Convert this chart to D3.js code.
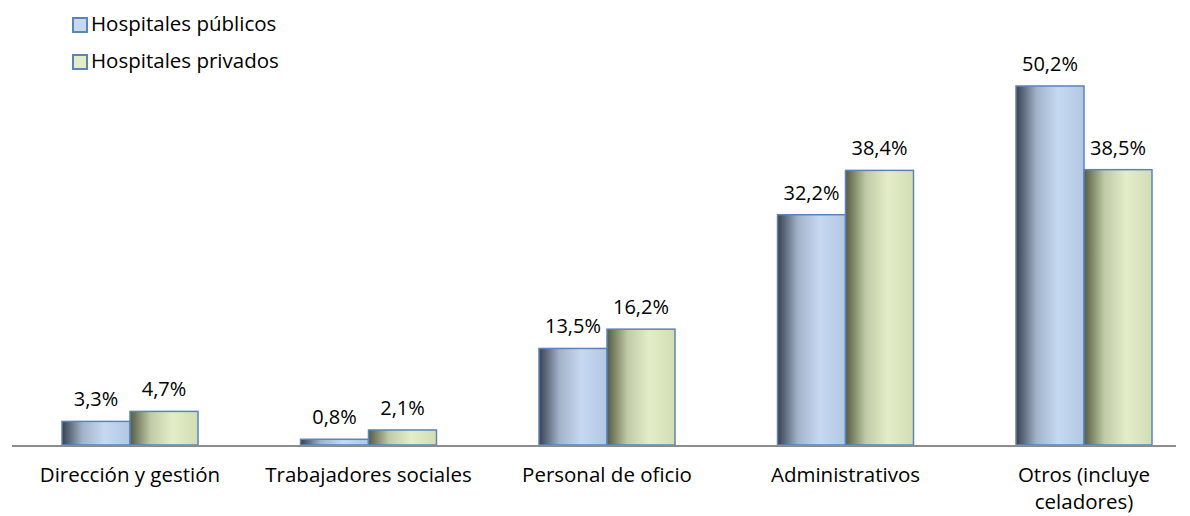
<!DOCTYPE html>
<html>
<head>
<meta charset="utf-8">
<script src="https://cdn.jsdelivr.net/npm/d3@7"></script>
<style>
  body { margin: 0; background: #fff; }
  text { font-family: "Open Sans", "Noto Sans", sans-serif; fill: #000; }
</style>
</head>
<body>
<div id="chart"></div>
<script>
var categories = [['Dirección y gestión'], ['Trabajadores sociales'], ['Personal de oficio'], ['Administrativos'], ['Otros (incluye', 'celadores)']];
var series = ['Hospitales públicos', 'Hospitales privados'];
var publicos = [3.3, 0.8, 13.5, 32.2, 50.2];
var privados = [4.7, 2.1, 16.2, 38.4, 38.5];

var chart_width = 1190;
var chart_height = 516;
var base_y = 445;

var svg = d3.select('#chart')
    .append('svg')
    .attr('width', chart_width)
    .attr('height', chart_height);

// gradients
var defs = svg.append('defs');
var grads = [
    {id: 'g0', dark: '#37404f', mid: '#c6d9f1', end: '#b3c7e2'},
    {id: 'g1', dark: '#565c40', mid: '#e3eec8', end: '#d2ddb4'}
];
grads.forEach(function(g) {
    var lg = defs.append('linearGradient').attr('id', g.id)
        .attr('x1', '0%').attr('x2', '100%').attr('y1', '0%').attr('y2', '0%');
    lg.append('stop').attr('offset', '0%').attr('stop-color', g.dark);
    lg.append('stop').attr('offset', '30%').attr('stop-color', d3.interpolateRgb(g.dark, g.mid)(0.75));
    lg.append('stop').attr('offset', '62%').attr('stop-color', g.mid);
    lg.append('stop').attr('offset', '100%').attr('stop-color', g.end);
});

var x_scale = d3.scaleBand()
    .domain(d3.range(categories.length))
    .range([10.75, 1203.25]);

var x_inner = d3.scaleBand()
    .domain([0, 1])
    .range([-68, 68]);

var y_scale = d3.scaleLinear()
    .domain([0, 50.2])
    .range([base_y, 86]);

var data = [];
categories.forEach(function(c, i) {
    data.push({cat: i, s: 0, v: publicos[i]});
    data.push({cat: i, s: 1, v: privados[i]});
});

svg.selectAll('rect.bar')
    .data(data)
    .enter()
    .append('rect')
    .attr('class', 'bar')
    .attr('x', function(d) { return x_scale(d.cat) + x_scale.bandwidth() / 2 + x_inner(d.s); })
    .attr('y', function(d) { return y_scale(d.v); })
    .attr('width', x_inner.bandwidth())
    .attr('height', function(d) { return base_y - y_scale(d.v); })
    .attr('fill', function(d) { return 'url(#g' + d.s + ')'; })
    .attr('stroke', '#5b84bb')
    .attr('stroke-width', 1.5);

// value labels
svg.selectAll('text.val')
    .data(data)
    .enter()
    .append('text')
    .attr('class', 'val')
    .attr('x', function(d) { return x_scale(d.cat) + x_scale.bandwidth() / 2 + x_inner(d.s) + x_inner.bandwidth() / 2; })
    .attr('y', function(d) { return y_scale(d.v) - 15; })
    .attr('text-anchor', 'middle')
    .attr('font-size', 20)
    .text(function(d) { return d.v.toFixed(1).replace('.', ',') + '%'; });

// axis line
svg.append('line')
    .attr('x1', 12).attr('x2', 1176)
    .attr('y1', base_y + 1).attr('y2', base_y + 1)
    .attr('stroke', '#8c8c8c')
    .attr('stroke-width', 2);

// category labels
var cl = svg.selectAll('text.cat')
    .data(categories)
    .enter()
    .append('text')
    .attr('class', 'cat')
    .attr('text-anchor', 'middle')
    .attr('font-size', 20.5);
cl.selectAll('tspan')
    .data(function(d, i) { return d.map(function(t) { return {t: t, i: i}; }); })
    .enter()
    .append('tspan')
    .attr('x', function(d) { return x_scale(d.i) + x_scale.bandwidth() / 2; })
    .attr('y', function(d, j) { return 482 + j * 27; })
    .text(function(d) { return d.t; });

// legend
var lg = svg.selectAll('g.leg')
    .data(series)
    .enter()
    .append('g')
    .attr('class', 'leg')
    .attr('transform', function(d, i) { return 'translate(73,' + (18 + i * 37) + ')'; });
lg.append('rect')
    .attr('width', 14).attr('height', 14)
    .attr('fill', function(d, i) { return i === 0 ? '#c6d9f1' : '#e3eec8'; })
    .attr('stroke', '#5b84bb')
    .attr('stroke-width', 2);
lg.append('text')
    .attr('x', 18)
    .attr('y', 13)
    .attr('font-size', 20.5)
    .text(function(d) { return d; });
</script>
</body>
</html>
